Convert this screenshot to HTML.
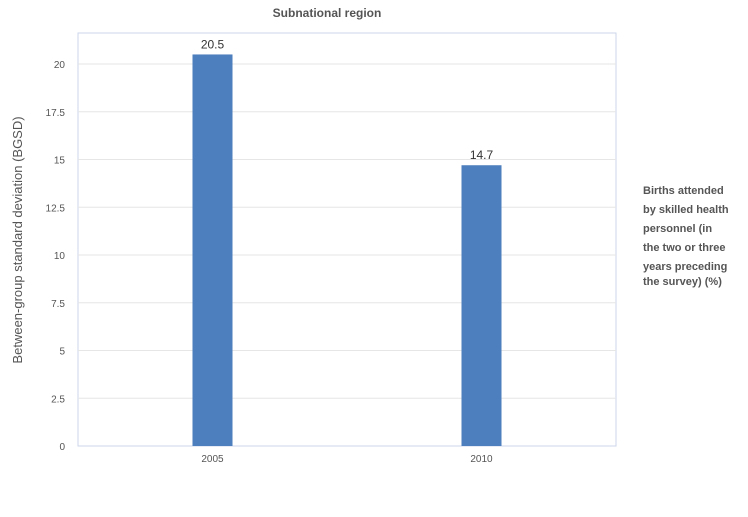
<!DOCTYPE html>
<html><head><meta charset="utf-8">
<style>
body{margin:0;background:#fff;font-family:"Liberation Sans",sans-serif;}
svg text{font-family:"Liberation Sans",sans-serif;}
</style></head>
<body>
<svg id="chart" width="748" height="512" xmlns="http://www.w3.org/2000/svg">
<text x="327" y="17" text-anchor="middle" font-size="12" font-weight="bold" fill="#555">Subnational region</text>
<text transform="translate(22,240) rotate(-90)" text-anchor="middle" font-size="13" fill="#555">Between-group standard deviation (BGSD)</text>
<g id="grid"></g>
<g id="bars"></g>
<g font-size="11" font-weight="bold" fill="#555">
<text x="643" y="194">Births attended</text>
<text x="643" y="213">by skilled health</text>
<text x="643" y="232">personnel (in</text>
<text x="643" y="251">the two or three</text>
<text x="643" y="270">years preceding</text>
<text x="643" y="285">the survey) (%)</text>
</g>
</svg>
<script>
const categories = ["2005","2010"];
const values = [20.5,14.7];
const yTicks = [0,2.5,5,7.5,10,12.5,15,17.5,20];
const yTickLabels = ["0","2.5","5","7.5","10","12.5","15","17.5","20"];
const NS="http://www.w3.org/2000/svg";
const L=78,R=616,T=33,B=446;
const y=v=>B-v*19.1;
const bw=(R-L)/categories.length;
const x=i=>L+bw*(i+0.5);
const grid=document.getElementById('grid'), bars=document.getElementById('bars');
function mk(tag,attrs,parent){const e=document.createElementNS(NS,tag);for(const k in attrs)e.setAttribute(k,attrs[k]);parent.appendChild(e);return e;}
const frame=mk('rect',{x:L,y:T,width:R-L,height:B-T,fill:'none',stroke:'#ccd6eb'},grid);


yTicks.forEach((t,i)=>{
  const ln=mk('line',{x1:L,x2:R,y1:y(t),y2:y(t),stroke:'#e6e6e6'},grid);
  
  
  const tx=mk('text',{x:L-13,y:y(t)+4,'text-anchor':'end','font-size':'10',fill:'#555'},grid);
  tx.textContent=yTickLabels[i];
  
  
});
const ax=mk('line',{x1:L,x2:R,y1:B,y2:B,stroke:'#ccd6eb'},grid);


categories.forEach((c,i)=>{
  const cx=x(i);
  const r=mk('rect',{x:cx-20,y:y(values[i]),width:40,height:B-y(values[i]),fill:'#4d7ebd'},bars);
  
  
  const v=mk('text',{x:cx,y:y(values[i])-6,'text-anchor':'middle','font-size':'12',fill:'#333'},bars);
  v.textContent=values[i].toFixed(1);
  
  
  const xl=mk('text',{x:cx,y:B+16,'text-anchor':'middle','font-size':'10',fill:'#555'},bars);
  xl.textContent=c;
  
  
});
</script>
</body></html>
